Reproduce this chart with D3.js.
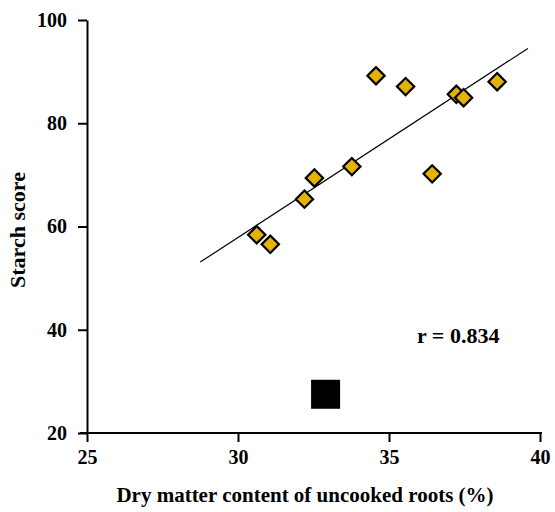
<!DOCTYPE html>
<html>
<head>
<meta charset="utf-8">
<script src="https://cdn.jsdelivr.net/npm/d3@7"></script>
<style>
  body { margin: 0; background: #fff; }
  svg text { font-family: "Liberation Serif", "Times New Roman", serif !important; font-weight: 700 !important; fill: #000 !important; }
  .axis text { font-size: 20px !important; }
</style>
</head>
<body>
<div id="chart"></div>
<script>
// cultivars: dry matter (%) vs starch score
const dryMatter = [34.57, 35.55, 37.23, 37.47, 38.58, 33.77, 36.43, 32.53, 32.2, 30.62, 31.07];
const starchScore = [89.2, 87.1, 85.6, 84.95, 88.05, 71.6, 70.2, 69.4, 65.3, 58.4, 56.55];

// separate point drawn as a black square
const squareX = [32.9];
const squareY = [27.5];

// fitted line end points
const fitX = [28.75, 39.6];
const fitY = [53.1, 94.5];

const xTicks = [25, 30, 35, 40];
const yTicks = [20, 40, 60, 80, 100];
const rLabel = "r = 0.834";

const W = 555, H = 512;
const margin = { top: 20, right: 15, bottom: 79, left: 87 };
const width = 540 - margin.left,
  height = 433 - margin.top;

const svg = d3.select("#chart").append("svg")
  .attr("width", W)
  .attr("height", H);

const g = svg.append("g")
  .attr("transform", `translate(${margin.left},${margin.top})`);

const x = d3.scaleLinear().domain([25, 40]).range([0, width]);
const y = d3.scaleLinear().domain([20, 100]).range([height, 0]);

const xAxis = g.append("g")
  .attr("class", "axis")
  .attr("transform", `translate(0,${height})`)
  .call(d3.axisBottom(x).tickValues(xTicks).tickSize(9).tickSizeOuter(0).tickPadding(8));

const yAxis = g.append("g")
  .attr("class", "axis")
  .call(d3.axisLeft(y).tickValues(yTicks).tickSize(9).tickSizeOuter(0).tickPadding(11));

[xAxis, yAxis].forEach((a) => {
  a.selectAll("path, line").attr("stroke", "#000").attr("stroke-width", 2);
});
// x axis line runs a bit left of the y axis
xAxis.select("path.domain").attr("d", `M-7,0H${width + 2}`);

// fitted line
g.append("line")
  .attr("x1", x(fitX[0])).attr("y1", y(fitY[0]))
  .attr("x2", x(fitX[1])).attr("y2", y(fitY[1]))
  .attr("stroke", "#000")
  .attr("stroke-width", 1.2);

const points = dryMatter.map((d, i) => ({ x: d, y: starchScore[i] }));

const diamond = d3.symbol().type(d3.symbolSquare).size(150);
g.selectAll("path.pt")
  .data(points)
  .join("path")
  .attr("class", "pt")
  .attr("d", diamond)
  .attr("transform", (d) => `translate(${x(d.x)},${y(d.y)}) rotate(45)`)
  .attr("fill", "#E2B400")
  .attr("stroke", "#000")
  .attr("stroke-width", 2.2);

const sq = 29;
g.selectAll("rect.sq")
  .data(squareX.map((d, i) => ({ x: d, y: squareY[i] })))
  .join("rect")
  .attr("class", "sq")
  .attr("x", (d) => x(d.x) - sq / 2)
  .attr("y", (d) => y(d.y) - sq / 2)
  .attr("width", sq)
  .attr("height", sq)
  .attr("fill", "#000");

g.append("text")
  .attr("x", 417 - margin.left)
  .attr("y", 343 - margin.top)
  .style("font-size", "22px")
  .text(rLabel);

svg.append("text")
  .attr("x", 305)
  .attr("y", 502)
  .attr("text-anchor", "middle")
  .style("font-size", "21px")
  .text("Dry matter content of uncooked roots (%)");

svg.append("text")
  .attr("transform", `translate(25,230) rotate(-90)`)
  .attr("text-anchor", "middle")
  .style("font-size", "22px")
  .text("Starch score");
</script>
</body>
</html>
